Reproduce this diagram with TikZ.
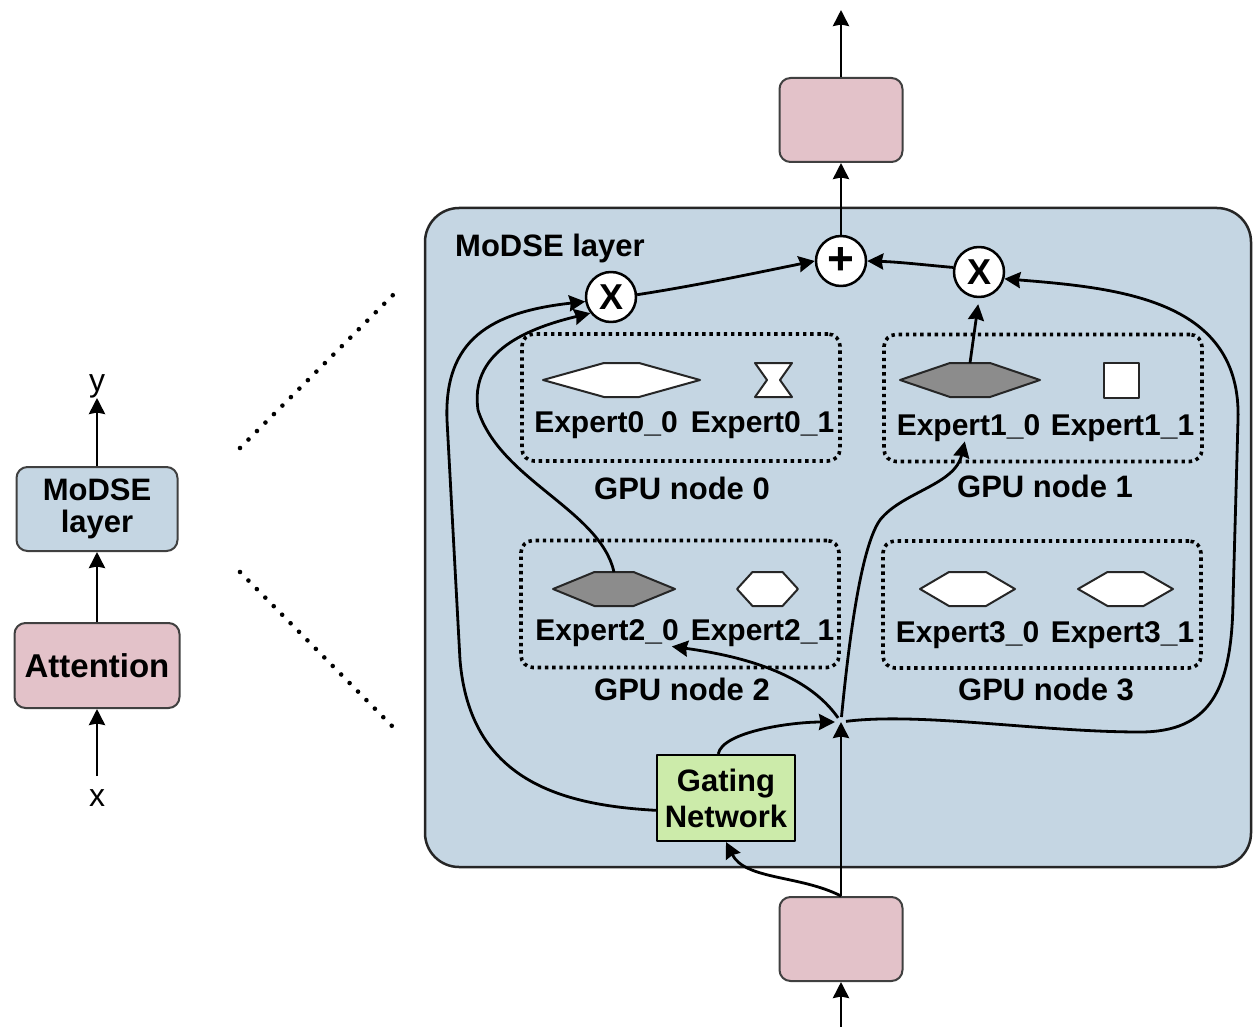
\documentclass[tikz,border=0pt]{standalone}
\usepackage{fontspec}
\setmainfont{Liberation Sans}
\usetikzlibrary{arrows.meta}

\definecolor{layerblue}{RGB}{197,214,227}
\definecolor{blockpink}{RGB}{227,194,201}
\definecolor{gategreen}{RGB}{204,235,170}
\definecolor{expertgray}{RGB}{140,140,140}
\definecolor{rimgray}{RGB}{64,64,64}

\tikzset{
  arr/.style={line width=2.8pt, -{Stealth[length=16pt,width=16pt,inset=1.5pt]}},
  lbl/.style={inner sep=0pt, font=\fontsize{31}{36}\selectfont\bfseries},
  explbl/.style={inner sep=0pt, font=\fontsize{30}{36}\selectfont\bfseries},
  plainlbl/.style={inner sep=0pt, font=\fontsize{32}{36}\selectfont},
  block/.style={draw=rimgray, line width=2pt, rounded corners=11pt, inner sep=0pt, align=center,
                font=\fontsize{31}{32}\selectfont\bfseries},
  layerbox/.style={draw=black!85, fill=layerblue, line width=2.5pt, rounded corners=34pt},
  gpubox/.style={draw=black, line width=3.6pt, dash pattern=on 3.4pt off 3.8pt, rounded corners=12pt,
                 minimum width=318pt, minimum height=127pt},
  opnode/.style={circle, draw=black, fill=white, line width=2.5pt, minimum size=50pt, inner sep=0pt,
                 font=\fontsize{36}{36}\selectfont\bfseries},
  hexline/.style={draw=black!85, line width=2pt},
  zoomline/.style={line width=4.6pt, line cap=round, dash pattern=on 0pt off 12pt},
}

% 六边形专家：名字、中心 x、中心 y、半宽、顶边半宽、填充色
\newcommand{\expertHex}[6]{%
  \draw[hexline, fill=#6] (#2-#4,#3) -- (#2-#5,#3-17) -- (#2+#5,#3-17) -- (#2+#4,#3)
    -- (#2+#5,#3+17) -- (#2-#5,#3+17) -- cycle;
  \coordinate (#1) at (#2,#3);
  \coordinate (#1-n) at (#2,#3-17);}

\begin{document}
\begin{tikzpicture}[x=1pt, y=-1pt, line join=round]

  %% ════ 左侧：整体堆叠 ════
  \node[plainlbl, anchor=south] (ylbl) at (97,398) {y};
  \node[block, fill=layerblue, minimum width=161pt, minimum height=84pt] (modse) at (97,509) {MoDSE\\layer};   % box(15,467,161,84)
  \node[block, fill=blockpink, minimum width=165pt, minimum height=85pt,
        font=\fontsize{33}{36}\selectfont\bfseries] (attn) at (97,665.5) {Attention};                       % box(16,623,165,85)
  \node[plainlbl, anchor=north] (xlbl) at (97,789) {x};

  \draw[arr] (modse.north) -- (ylbl.south);
  \draw[arr] (attn.north) -- (modse.south);
  \draw[arr, shorten <=13pt] (xlbl.north) -- (attn.south);

  %% 放大引线（点线）
  \coordinate (zoomA1) at (240,448);  \coordinate (zoomA2) at (395,293);
  \coordinate (zoomB1) at (240,572);  \coordinate (zoomB2) at (392,726);
  \draw[zoomline] (zoomA1) -- (zoomA2);
  \draw[zoomline] (zoomB1) -- (zoomB2);

  %% ════ 右侧：MoDSE 层展开 ════
  \node[layerbox, minimum width=826pt, minimum height=659pt] (layer) at (838,537.5) {};   % box(425,208,826,659)
  \node[lbl, anchor=base west] (layertitle) at (455,257) {MoDSE layer};

  % 上下两个块
  \node[block, fill=blockpink, minimum width=123pt, minimum height=84pt] (outblk) at (841,120) {};
  \node[block, fill=blockpink, minimum width=123pt, minimum height=84pt] (inblk) at (841,939) {};
  \coordinate (ytop) at (841,10);
  \coordinate (xbot) at (841,1027);
  \coordinate (hub) at (841,722);

  % 加/乘
  \node[opnode, font=\fontsize{46}{46}\selectfont\bfseries] (plus) at (841,261) {+};
  \node[opnode] (mulL) at (611,297) {X};
  \node[opnode] (mulR) at (979,272) {X};

  % GPU 节点框
  \node[gpubox] (gpu0) at (681,397.5) {};    % box(522,333,318,128)
  \node[gpubox] (gpu1) at (1043,398) {};     % box(883,335,320,126)
  \node[gpubox] (gpu2) at (680,604) {};      % box(522,541,316,126)
  \node[gpubox] (gpu3) at (1042,604.5) {};   % box(882,542,320,125)
  \node[lbl, anchor=base] (gpu0lbl) at (682,499) {GPU node 0};
  \node[lbl, anchor=base] (gpu1lbl) at (1045,497) {GPU node 1};
  \node[lbl, anchor=base] (gpu2lbl) at (682,700) {GPU node 2};
  \node[lbl, anchor=base] (gpu3lbl) at (1046,700) {GPU node 3};

  % 专家形状
  \expertHex{e00}{621.5}{380}{78.5}{17.5}{white}
  \draw[hexline, fill=white] (755,363) -- (792,363) -- (780,380) -- (792,397) -- (755,397) -- (767,380) -- cycle;
  \expertHex{e10}{970}{380}{70}{20}{expertgray}
  \node[hexline, fill=white, minimum size=35pt, inner sep=0pt] (e11) at (1121,380.5) {};
  \expertHex{e20}{614}{589}{61}{19.5}{expertgray}
  \expertHex{e21}{767.5}{589}{30.5}{15}{white}
  \expertHex{e30}{967.5}{589}{47.5}{18.5}{white}
  \expertHex{e31}{1125.5}{589}{47.5}{18}{white}

  % 专家名
  \node[explbl, anchor=base] (lbl00) at (606,432) {Expert0\_0};
  \node[explbl, anchor=base] (lbl01) at (762.5,432) {Expert0\_1};
  \node[explbl, anchor=base] (lbl10) at (968.5,435) {Expert1\_0};
  \node[explbl, anchor=base] (lbl11) at (1122.5,435) {Expert1\_1};
  \node[explbl, anchor=base] (lbl20) at (607,640) {Expert2\_0};
  \node[explbl, anchor=base] (lbl21) at (762.5,640) {Expert2\_1};
  \node[explbl, anchor=base] (lbl30) at (967.5,642) {Expert3\_0};
  \node[explbl, anchor=base] (lbl31) at (1122.5,642) {Expert3\_1};

  % 门控网络
  \node[block, fill=gategreen, draw=black, rounded corners=0pt, minimum width=138pt, minimum height=86pt,
        font=\fontsize{31}{36}\selectfont\bfseries] (gate) at (726,798) {Gating\\Network};   % box(657,755,138,86)

  %% ════ 连线 ════
  \draw[arr] (outblk.north) -- (ytop);
  \draw[arr] (plus.north) -- (outblk.south);
  \draw[arr] (xbot) -- (inblk.south);
  \draw[arr] (inblk.north) -- (hub);
  \draw[arr] (inblk.north) .. controls (800,875) and (745,880) .. (gate.south);
  \draw[arr, shorten >=6pt] (gate.100) .. controls (722,732) and (790,722) .. (hub);

  % 分发到各专家
  \draw[arr, shorten <=5pt] (hub) .. controls (815,685) and (770,660) .. (lbl20.-12);
  \draw[arr, shorten <=5pt] (hub) .. controls (848,650) and (860,548) .. (880,520)
        .. controls (902,492) and (955,485) .. (lbl10.255);
  \draw[arr, shorten <=5pt] (hub) .. controls (920,712) and (1040,732) .. (1140,732)
        .. controls (1210,732) and (1232,690) .. (1233,600) -- (1238,420)
        .. controls (1242,300) and (1120,288) .. (mulR.-15);
  \draw[arr] (gate.190) .. controls (560,805) and (470,780) .. (460,660) -- (447,420)
        .. controls (444,340) and (490,312) .. (mulL.190);

  % 专家输出加权后汇合
  \draw[arr] (e20-n) .. controls (600,510) and (500,480) .. (478,410)
        .. controls (470,355) and (520,330) .. (mulL.218);
  \draw[arr, shorten >=6pt] (e10-n) -- (mulR.south);
  \draw[arr] (mulL.5) .. controls (700,285) and (760,272) .. (plus.west);
  \draw[arr] (mulR.170) .. controls (925,265) and (900,262) .. (plus.east);

  % 固定画布
  \pgfresetboundingbox
  \path[use as bounding box] (0,0) rectangle (1253,1027);
\end{tikzpicture}
\end{document}
